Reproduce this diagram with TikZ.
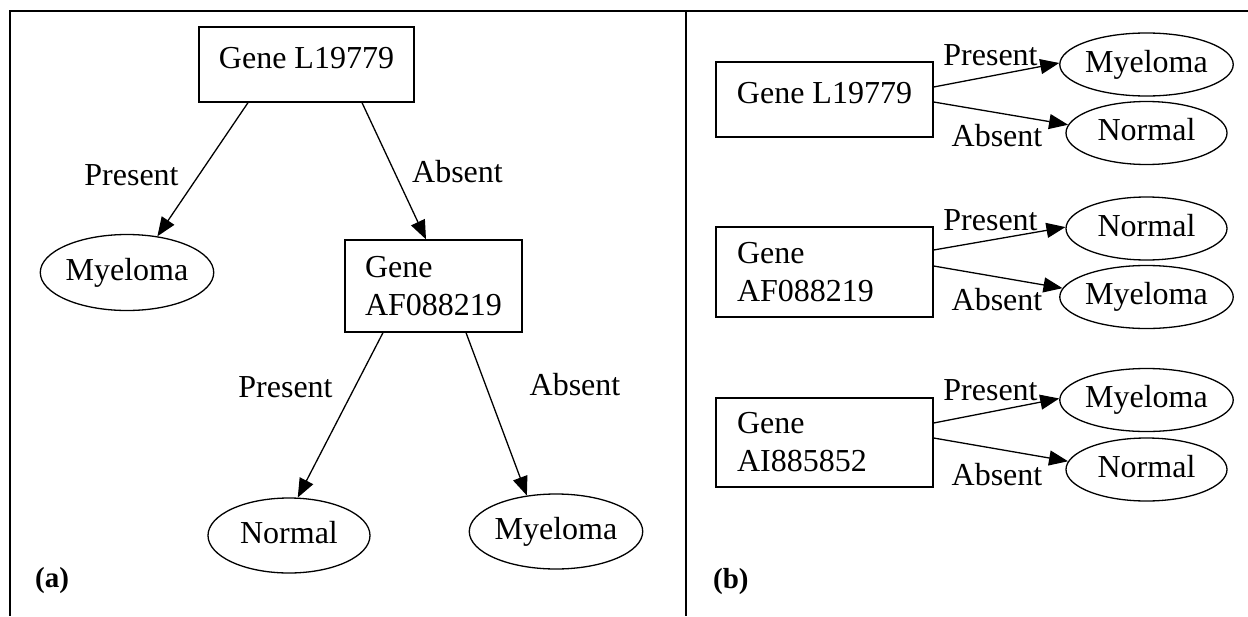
\documentclass[tikz,border=0pt]{standalone}
\usepackage{fontspec}
\setmainfont{Liberation Serif}
\usetikzlibrary{arrows.meta,shapes.geometric}
\begin{document}
\begin{tikzpicture}[x=1pt,y=-1pt,
  every node/.style={font=\fontsize{32}{38}\selectfont},
  frame/.style={line width=2pt},
  box/.style={draw, rectangle, line width=1.3pt, inner sep=0pt, align=left},
  onebox/.style={box, text height=22pt, text depth=15pt},
  oval/.style={draw, ellipse, line width=1.3pt, inner sep=0pt, text height=22pt, text depth=7pt},
  edge/.style={line width=1.3pt, -{Triangle[length=19pt,width=15pt]}},
  lbl/.style={anchor=base, inner sep=0pt},
  tag/.style={anchor=base west, inner sep=0pt, font=\fontsize{29}{34}\selectfont\bfseries}
]
\useasboundingbox (0,0) rectangle (1248,616);
\draw[frame] (1248,11) -- (10,11) -- (10,616);
\draw[frame] (686,11) -- (686,616);

% ---------- panel (a)
\node[onebox, minimum width=215pt, minimum height=75pt] (aL) at (306.5,64.5) {Gene L19779};
\node[oval, minimum width=162pt, minimum height=76pt] (aM1) at (127,272.5) {Myeloma};
\node[box, minimum width=177pt, minimum height=92pt] (aAF) at (433.5,286) {Gene\\AF088219};
\node[oval, minimum width=162pt, minimum height=75pt] (aN) at (289,535.5) {Normal};
\node[oval, minimum width=162pt, minimum height=75pt] (aM2) at (556,531.5) {Myeloma};

\draw[edge] ([xshift=-58.5pt]aL.south) -- (aM1.50);
\draw[edge] ([xshift=55.5pt]aL.south) -- ([xshift=-7.5pt]aAF.north);
\draw[edge] ([xshift=-50.5pt]aAF.south) -- (aN.77);
\draw[edge] ([xshift=32.5pt]aAF.south) -- (aM2.129);

\node[lbl] (aP1) at (131.5,185) {Present};
\node[lbl] (aA1) at (457.5,182) {Absent};
\node[lbl] (aP2) at (285.5,397) {Present};
\node[lbl] (aA2) at (575,395) {Absent};
\node[tag] (ta) at (35,587) {(a)};

% ---------- panel (b)
\node[onebox, minimum width=217pt, minimum height=75pt] (b1) at (824.5,99.5) {Gene L19779};
\node[box, text width=175pt, minimum width=217pt, minimum height=90pt] (b2) at (824.5,272) {Gene\\AF088219};
\node[box, text width=175pt, minimum width=217pt, minimum height=89pt] (b3) at (824.5,442.5) {Gene\\AI885852};

\node[oval, minimum width=161pt, minimum height=63pt] (b1M) at (1146.5,64.5) {Myeloma};
\node[oval, minimum width=161pt, minimum height=63pt] (b1N) at (1146.5,133) {Normal};
\node[oval, minimum width=161pt, minimum height=63pt] (b2N) at (1146.5,228.5) {Normal};
\node[oval, minimum width=161pt, minimum height=63pt] (b2M) at (1146.5,297) {Myeloma};
\node[oval, minimum width=161pt, minimum height=63pt] (b3M) at (1146.5,400) {Myeloma};
\node[oval, minimum width=161pt, minimum height=63pt] (b3N) at (1146.5,469.5) {Normal};

\draw[edge] ([yshift=12.5pt]b1.east) -- (b1M.179);
\draw[edge] ([yshift=-2.5pt]b1.east) -- (b1N.174);
\draw[edge] ([yshift=22pt]b2.east) -- (b2N.179);
\draw[edge] ([yshift=6pt]b2.east) -- (b2M.174);
\draw[edge] ([yshift=19.5pt]b3.east) -- (b3M.179);
\draw[edge] ([yshift=4.5pt]b3.east) -- (b3N.174);

\node[lbl] (bP1) at (990.5,65) {Present};
\node[lbl] (bA1) at (997,146) {Absent};
\node[lbl] (bP2) at (990.5,230) {Present};
\node[lbl] (bA2) at (997,310) {Absent};
\node[lbl] (bP3) at (990.5,400) {Present};
\node[lbl] (bA3) at (997,485) {Absent};
\node[tag] (tb) at (713,588) {(b)};
\end{tikzpicture}
\end{document}
